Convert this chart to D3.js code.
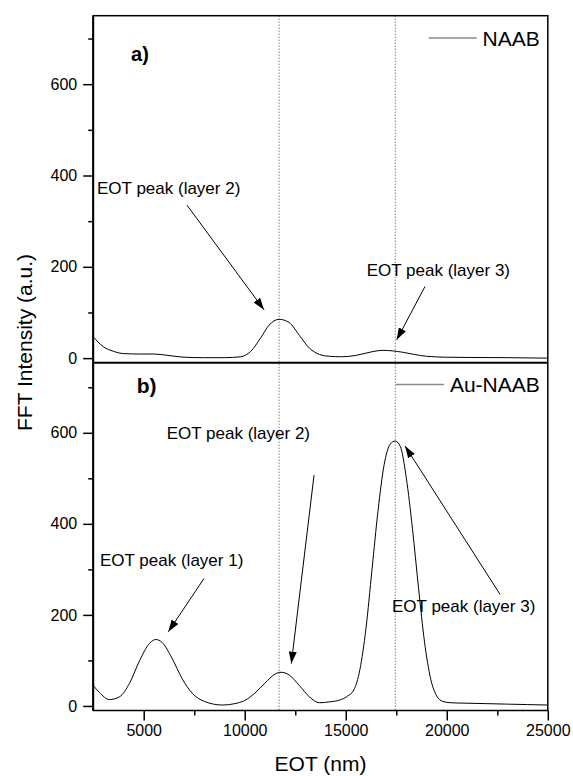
<!DOCTYPE html>
<html>
<head>
<meta charset="utf-8">
<script src="https://cdn.jsdelivr.net/npm/d3@7"></script>
<style>
  body { margin: 0; background: #fff; }
  text { font-family: "Liberation Sans", Arial, sans-serif; }
</style>
</head>
<body>
<svg></svg>
<script>
// Define data
const eotNAAB = [2500, 3000, 3500, 4000, 4800, 5500, 6200, 7000, 8000, 9000, 9800, 10300, 10800, 11200, 11700,
                 12200, 12700, 13200, 13700, 14200, 14800, 15500, 16200, 16800, 17300, 17800, 18400, 19000, 20000,
                 21000, 23000, 25000]
const intNAAB = [47, 25, 15, 10, 9, 9, 6, 2, 1, 1, 3, 15, 45, 72, 85,
                 78, 50, 22, 8, 4, 3, 6, 13, 17, 16, 13, 8, 4, 2,
                 1.5, 1, 0]

const eotAu = [2500, 2800, 3300, 3800, 4300, 4800, 5300, 5600, 5900, 6400, 6900, 7400, 8000, 8900, 9500, 10000,
               10500, 11000, 11500, 11800, 12200, 12700, 13200, 13700, 14200, 14700, 15100, 15400, 15700, 16000,
               16300, 16600, 16900, 17200, 17450, 17700, 18000, 18300, 18600, 18900, 19200, 19500, 19800, 20200,
               21000, 22000, 23000, 24000, 25000]
const intAu = [45, 30, 14, 20, 50, 100, 138, 146, 140, 105, 60, 28, 10, 2, 5, 12,
               28, 50, 70, 74, 68, 45, 20, 7, 9, 13, 22, 35, 80, 170,
               300, 430, 530, 575, 582, 570, 500, 390, 260, 140, 60, 22, 10, 7,
               6, 5, 4, 3, 2]

const xTicks = [5000, 10000, 15000, 20000, 25000]
const xMinor = [7500, 12500, 17500, 22500]
const yTicks = [0, 200, 400, 600]
const yMinor = [100, 300, 500, 700]
const peakLines = [11700, 17450]
const seriesNames = ['NAAB', 'Au-NAAB']
const panelTags = ['a)', 'b)']

// label text and anchor/arrow in data units
const notesA = [
  {text: 'EOT peak (layer 2)', tx: 2690, ty: 360, x1: 7143, y1: 335, x2: 10954, y2: 106},
  {text: 'EOT peak (layer 3)', tx: 16037, ty: 180, x1: 18923, y1: 157, x2: 17522, y2: 40}
]
const notesB = [
  {text: 'EOT peak (layer 1)', tx: 2837, ty: 307, x1: 7985, y1: 280, x2: 6218, y2: 163},
  {text: 'EOT peak (layer 2)', tx: 6138, ty: 586, x1: 13430, y1: 507, x2: 12306, y2: 93},
  {text: 'EOT peak (layer 3)', tx: 17290, ty: 206, x1: 22638, y1: 245, x2: 17935, y2: 571}
]

// Layout
const width = 573
const height = 776
const padLeft = 93.2
const padRight = 547.8
const plotTop = 15.7
const plotMid = 362.7
const plotBottom = 710.5

const svg = d3.select('svg')
              .attr('width', width)
              .attr('height', height)

svg.append('defs').append('marker')
    .attr('id', 'head')
    .attr('markerUnits', 'userSpaceOnUse')
    .attr('viewBox', '0 0 12 8')
    .attr('refX', 12).attr('refY', 4)
    .attr('markerWidth', 12).attr('markerHeight', 8)
    .attr('orient', 'auto')
    .append('path')
    .attr('d', 'M0,0 L12,4 L0,8 Z')
    .attr('fill', '#000')

const xScale = d3.scaleLinear().domain([2500, 25000]).range([padLeft, padRight])
const yA = d3.scaleLinear().domain([-10, 750]).range([plotMid, plotTop])
const yB = d3.scaleLinear().domain([-10, 754]).range([plotBottom, plotMid])

// dotted peak lines through both panels
svg.selectAll('.peak')
    .data(peakLines)
    .enter()
    .append('line')
    .attr('x1', d => xScale(d)).attr('x2', d => xScale(d))
    .attr('y1', plotTop).attr('y2', plotBottom)
    .attr('stroke', '#444')
    .attr('stroke-width', 1)
    .attr('stroke-dasharray', '1,2')

let drawPanel = (yScale, xs, ys, notes, name, legendY) => {
    let line = d3.line()
                 .x((d, i) => xScale(xs[i]))
                 .y(d => yScale(d))
                 .curve(d3.curveMonotoneX)
    svg.append('path')
        .attr('d', line(ys))
        .attr('fill', 'none')
        .attr('stroke', '#000')
        .attr('stroke-width', 1)

    // y axis major + minor
    let yAxis = d3.axisLeft(yScale).tickValues(yTicks).tickSize(10).tickPadding(6).tickSizeOuter(0)
    let g = svg.append('g')
        .attr('transform', 'translate(' + padLeft + ',0)')
        .call(yAxis)
    g.select('.domain').remove()
    g.selectAll('line').attr('stroke-width', 1.5)
    g.selectAll('text').attr('font-size', 16).attr('fill', '#000')

    let gm = svg.append('g')
        .attr('transform', 'translate(' + padLeft + ',0)')
        .call(d3.axisLeft(yScale).tickValues(yMinor).tickSize(5).tickFormat(''))
    gm.select('.domain').remove()
    gm.selectAll('line').attr('stroke-width', 1.5)

    // notes with arrows
    notes.forEach(n => {
        svg.append('text')
            .attr('x', xScale(n.tx)).attr('y', yScale(n.ty))
            .attr('font-size', 17)
            .text(n.text)
        svg.append('line')
            .attr('x1', xScale(n.x1)).attr('y1', yScale(n.y1))
            .attr('x2', xScale(n.x2)).attr('y2', yScale(n.y2))
            .attr('stroke', '#000').attr('stroke-width', 1)
            .attr('marker-end', 'url(#head)')
    })

    // legend
    let lx = padRight - 8
    let lt = svg.append('text')
        .attr('x', lx).attr('y', legendY)
        .attr('dy', '0.36em')
        .attr('text-anchor', 'end')
        .attr('font-size', 21)
        .text(name)
    let tw = lt.node().getComputedTextLength()
    svg.append('line')
        .attr('x1', lx - tw - 54).attr('x2', lx - tw - 6)
        .attr('y1', legendY).attr('y2', legendY)
        .attr('stroke', '#888').attr('stroke-width', 1.5)
}

drawPanel(yA, eotNAAB, intNAAB, notesA, seriesNames[0], 38)
drawPanel(yB, eotAu, intAu, notesB, seriesNames[1], 384.5)

// panel tags
svg.append('text')
    .attr('x', xScale(4376)).attr('y', yA(650))
    .attr('font-family', '"Liberation Serif", "Times New Roman", serif')
    .attr('font-weight', 'bold').attr('font-size', 20)
    .text(panelTags[0])
svg.append('text')
    .attr('x', xScale(4653)).attr('y', yB(687))
    .attr('font-family', '"Liberation Serif", "Times New Roman", serif')
    .attr('font-weight', 'bold').attr('font-size', 21)
    .text(panelTags[1])

// bottom axis
let xg = svg.append('g')
    .attr('transform', 'translate(0,' + plotBottom + ')')
    .call(d3.axisBottom(xScale).tickValues(xTicks).tickFormat(d3.format('d'))
            .tickSize(10).tickPadding(4).tickSizeOuter(0))
xg.select('.domain').remove()
xg.selectAll('line').attr('stroke-width', 1.5)
xg.selectAll('text').attr('font-size', 16).attr('fill', '#000')
let xgm = svg.append('g')
    .attr('transform', 'translate(0,' + plotBottom + ')')
    .call(d3.axisBottom(xScale).tickValues(xMinor).tickSize(5).tickFormat(''))
xgm.select('.domain').remove()
xgm.selectAll('line').attr('stroke-width', 1.5)

// frames
svg.append('rect')
    .attr('x', padLeft).attr('y', plotTop)
    .attr('width', padRight - padLeft).attr('height', plotBottom - plotTop)
    .attr('fill', 'none').attr('stroke', '#000').attr('stroke-width', 1.5)
svg.append('line')
    .attr('x1', padLeft).attr('x2', padRight)
    .attr('y1', plotMid).attr('y2', plotMid)
    .attr('stroke', '#000').attr('stroke-width', 2)
svg.append('line')
    .attr('x1', padLeft).attr('x2', padLeft)
    .attr('y1', plotTop).attr('y2', plotBottom)
    .attr('stroke', '#000').attr('stroke-width', 2)

// axis titles
svg.append('text')
    .attr('x', (padLeft + padRight) / 2).attr('y', 771)
    .attr('text-anchor', 'middle')
    .attr('font-size', 21)
    .text('EOT (nm)')
svg.append('text')
    .attr('transform', 'translate(24,431) rotate(-90)')
    .attr('dy', '0.36em')
    .attr('text-anchor', 'start')
    .attr('font-size', 21)
    .text('FFT Intensity (a.u.)')
</script>
</body>
</html>
